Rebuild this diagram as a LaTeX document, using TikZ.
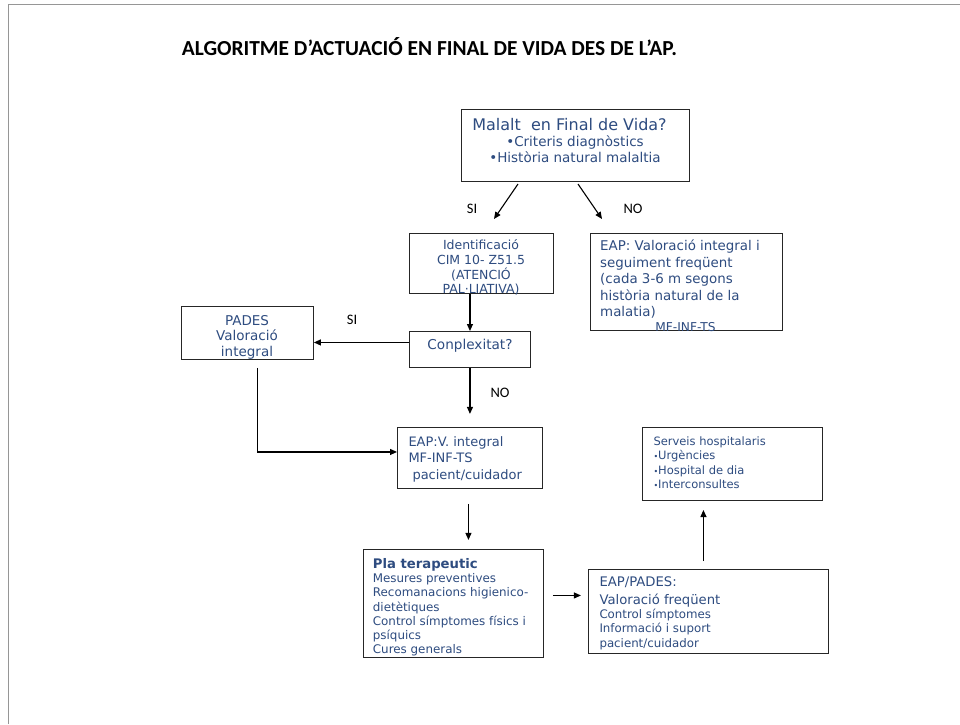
\documentclass[tikz,border=0pt]{standalone}
\usepackage{fontspec}
\setmainfont{DejaVu Sans}
\newfontfamily\titlefont{Carlito}
\usetikzlibrary{arrows.meta}
\definecolor{txtblue}{RGB}{46,76,128}
\definecolor{framegray}{RGB}{150,150,150}
\begin{document}
\begin{tikzpicture}[x=1pt,y=-1pt,
  box/.style={draw=black!85, line width=0.9pt, inner sep=0pt, anchor=north west},
  arr/.style={-{Triangle[length=7pt,width=6pt]}, line width=1.1pt},
  sz/.style={font=\fontsize{#1}{#1}\selectfont},
  szb/.style={font=\fontsize{#1}{#1}\selectfont\bfseries},
  txt/.style={text=txtblue, inner sep=0pt, anchor=base west},
  ctxt/.style={text=txtblue, inner sep=0pt, anchor=base},
  lbl/.style={inner sep=0pt, anchor=center, font=\titlefont\fontsize{14.5}{14.5}\selectfont}]
\fill[white] (0,0) rectangle (960,724);
\useasboundingbox (0,0) rectangle (960,724);
% page frame
\draw[framegray, line width=1.5pt] (8.7,724) -- (8.7,4.7) -- (960,4.7);

% title
\node[inner sep=0pt, font=\titlefont\bfseries\fontsize{21.4}{21.4}\selectfont] (title) at (429.5,47)
  {ALGORITME D’ACTUACIÓ EN FINAL DE VIDA DES DE L’AP.};

% boxes
\node[box, minimum width=228pt, minimum height=72pt] (malalt) at (461,109) {};
\node[box, minimum width=144pt, minimum height=60pt] (ident) at (409,233) {};
\node[box, minimum width=192pt, minimum height=97pt] (eapval) at (590,233) {};
\node[box, minimum width=121pt, minimum height=36pt] (conpl) at (409,331) {};
\node[box, minimum width=132pt, minimum height=53pt] (pades) at (181,306) {};
\node[box, minimum width=145pt, minimum height=61pt] (eapv) at (397,427) {};
\node[box, minimum width=180pt, minimum height=108pt] (pla) at (363,549) {};
\node[box, minimum width=240pt, minimum height=84pt] (eappades) at (588,569) {};
\node[box, minimum width=180pt, minimum height=73pt] (serveis) at (642,427) {};

% box texts
\node[ctxt, sz=16] (m1) at (569.5,130.5) {Malalt\ \ en Final de Vida?};
\node[ctxt, sz=13.5] (m2) at (575,146.5) {•Criteris diagnòstics};
\node[ctxt, sz=13.5] (m3) at (575,162.5) {•Història natural malaltia};

\node[ctxt, sz=12.5] (i1) at (481,249.5) {Identificació};
\node[ctxt, sz=12.5] (i2) at (481,264.3) {CIM 10- Z51.5};
\node[ctxt, sz=12.5] (i3) at (481,279) {(ATENCIÓ};
\node[ctxt, sz=12.5] (i4) at (481,293.8) {PAL·LIATIVA)};

\node[txt, sz=13.4] (v1) at (600,250.5) {EAP: Valoració integral i};
\node[txt, sz=13.4] (v2) at (600,267) {seguiment freqüent};
\node[txt, sz=13.4] (v3) at (600,283.5) {(cada 3-6 m segons};
\node[txt, sz=13.4] (v4) at (600,300) {història natural de la};
\node[txt, sz=13.4] (v5) at (600,316.5) {malatia)};
\node[ctxt, sz=12.2] (v6) at (685.5,331) {MF-INF-TS};

\node[ctxt, sz=13.6] (c1) at (470,349.3) {Conplexitat?};

\node[ctxt, sz=13.5] (p1) at (247,325) {PADES};
\node[ctxt, sz=13.5] (p2) at (247,340.5) {Valoració};
\node[ctxt, sz=13.5] (p3) at (247,356) {integral};

\node[txt, sz=13] (e1) at (408.3,446) {EAP:V. integral};
\node[txt, sz=13] (e2) at (408.3,462.5) {MF-INF-TS};
\node[txt, sz=13] (e3) at (412.3,479) {pacient/cuidador};

\node[txt, szb=13.2] (t1) at (372.7,568) {Pla terapeutic};
\node[txt, sz=11.9] (t2) at (372.7,582.7) {Mesures preventives};
\node[txt, sz=11.9] (t3) at (372.7,596.9) {Recomanacions higienico-};
\node[txt, sz=11.9] (t4) at (372.7,611.1) {dietètiques};
\node[txt, sz=11.9] (t5) at (372.7,625.3) {Control símptomes físics i};
\node[txt, sz=11.9] (t6) at (372.7,639.5) {psíquics};
\node[txt, sz=11.9] (t7) at (372.7,653.7) {Cures generals};

\node[txt, sz=13.2] (f1) at (599.3,586.7) {EAP/PADES:};
\node[txt, sz=13.2] (f2) at (599.3,604) {Valoració freqüent};
\node[txt, sz=11.8] (f3) at (599.3,618.3) {Control símptomes};
\node[txt, sz=11.8] (f4) at (599.3,632.7) {Informació i suport};
\node[txt, sz=11.8] (f5) at (599.3,647) {pacient/cuidador};

\node[txt, sz=11.5] (h1) at (653.3,445) {Serveis hospitalaris};
\node[txt, sz=11.5] (h2) at (653.3,459.5) {{\fontsize{8}{8}\selectfont•}Urgències};
\node[txt, sz=11.5] (h3) at (653.3,474) {{\fontsize{8}{8}\selectfont•}Hospital de dia};
\node[txt, sz=11.5] (h4) at (653.3,488.5) {{\fontsize{8}{8}\selectfont•}Interconsultes};

% branch labels
\node[lbl] (siA) at (472,209) {SI};
\node[lbl] (noA) at (633,209) {NO};
\node[lbl] (siB) at (352,320) {SI};
\node[lbl] (noB) at (500,393) {NO};

% connectors
\coordinate (ys) at (518,184);
\coordinate (ye) at (494,219);
\coordinate (ns) at (578,184);
\coordinate (ne) at (602,219);
\draw[arr] (ys) -- (ye);
\draw[arr] (ns) -- (ne);
\draw[arr] (conpl.north |- ident.south) -- (conpl.north);
\draw[arr] ([yshift=7pt]conpl.west) -- ([yshift=7pt]conpl.west -| pades.east);
\draw[arr] (conpl.south) -- ++(0,46);
\draw[arr] ([xshift=10pt,yshift=-8pt]pades.south) |- ([yshift=6pt]eapv.west);
\draw[arr] ([xshift=-1.5pt,yshift=-15pt]eapv.south) -- ++(0,36);
\draw[arr] ([xshift=9pt,yshift=8pt]pla.east) -- ++(28,0);
\draw[arr] ([xshift=-5pt,yshift=8pt]eappades.north) -- ++(0,-51);
\end{tikzpicture}
\end{document}
